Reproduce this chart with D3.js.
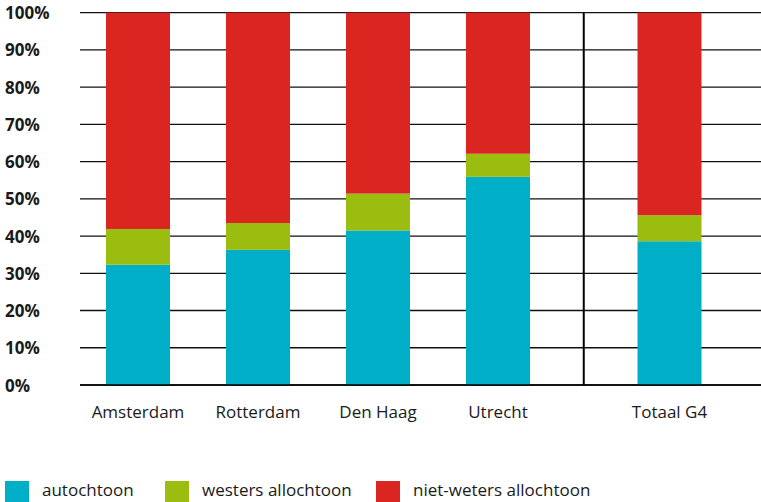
<!DOCTYPE html>
<html>
<head>
<meta charset="utf-8">
<script src="https://cdn.jsdelivr.net/npm/d3@7"></script>
<style>
  html, body { margin: 0; padding: 0; background: #fff; }
  svg { display: block; font-family: "Open Sans", "DejaVu Sans", sans-serif; }
</style>
</head>
<body>
<svg id="chart" width="761" height="502"></svg>
<script>
// ---- data ----
const categories = ["Amsterdam", "Rotterdam", "Den Haag", "Utrecht", "Totaal G4"];
const autochtoon = [32.3, 36.3, 41.5, 55.9, 38.6];
const westersAllochtoon = [9.6, 7.2, 9.9, 6.2, 7.0];
const nietWestersAllochtoon = [58.1, 56.5, 48.6, 37.9, 54.4];
const seriesNames = ["autochtoon", "westers allochtoon", "niet-weters allochtoon"];
const seriesColors = ["#00AEC7", "#9ABD10", "#DA2520"];
const yTicks = [0, 10, 20, 30, 40, 50, 60, 70, 80, 90, 100];
const yTickLabels = ["0%", "10%", "20%", "30%", "40%", "50%", "60%", "70%", "80%", "90%", "100%"];

// ---- layout ----
const W = 761, H = 502;
const gridLeft = 80;
const totalGap = 51.5; // extra gap before the total bar

const svg = d3.select("#chart");

const table = categories.map((c, i) => ({
  cat: c,
  "autochtoon": autochtoon[i],
  "westers allochtoon": westersAllochtoon[i],
  "niet-weters allochtoon": nietWestersAllochtoon[i]
}));

const y = d3.scaleLinear().domain([0, 100]).range([385, 12.6]);
const x = d3.scaleBand().domain(categories).range([78, 678])
  .paddingInner(56 / 120).paddingOuter(28 / 120);
const xPos = c => x(c) + (c === "Totaal G4" ? totalGap : 0);

// gridlines
svg.append("g").selectAll("line").data(yTicks).join("line")
  .attr("x1", gridLeft).attr("x2", W)
  .attr("y1", d => y(d)).attr("y2", d => y(d))
  .attr("stroke", "#111").attr("stroke-width", 1.3);

// y labels
svg.append("g").selectAll("text").data(yTicks).join("text")
  .attr("x", 5).attr("y", d => y(d) + 6.5)
  .attr("font-size", 17).attr("font-weight", "bold").attr("fill", "#1a1a1a")
  .text((d, i) => yTickLabels[i]);

// stacked bars
const stack = d3.stack().keys(seriesNames);
const stacked = stack(table);
const color = d3.scaleOrdinal().domain(seriesNames).range(seriesColors);

svg.append("g").selectAll("g").data(stacked).join("g")
  .attr("fill", d => color(d.key))
  .selectAll("rect").data(d => d).join("rect")
  .attr("x", d => xPos(d.data.cat))
  .attr("width", x.bandwidth())
  .attr("y", d => y(d[1]))
  .attr("height", d => y(d[0]) - y(d[1]));

// baseline
svg.append("line").attr("x1", gridLeft).attr("x2", W)
  .attr("y1", y(0)).attr("y2", y(0)).attr("stroke", "#000").attr("stroke-width", 1.5);

// separator between cities and total
const sepX = (xPos("Utrecht") + x.bandwidth() / 2 + xPos("Totaal G4") + x.bandwidth() / 2) / 2;
svg.append("line").attr("x1", sepX).attr("x2", sepX)
  .attr("y1", y(100)).attr("y2", y(0))
  .attr("stroke", "#000").attr("stroke-width", 2);

// category labels
svg.append("g").selectAll("text").data(categories).join("text")
  .attr("x", c => xPos(c) + x.bandwidth() / 2)
  .attr("y", 418)
  .attr("text-anchor", "middle")
  .attr("font-size", 17).attr("fill", "#1a1a1a")
  .text(c => c);

// legend
const legendX = [5, 165, 376];
const lg = svg.append("g").selectAll("g").data(seriesNames).join("g")
  .attr("transform", (d, i) => `translate(${legendX[i]},0)`);
lg.append("rect").attr("x", 0).attr("y", 481).attr("width", 24).attr("height", 24)
  .attr("fill", d => color(d));
lg.append("text").attr("x", 37).attr("y", 496)
  .attr("font-size", 17).attr("fill", "#1a1a1a")
  .text(d => d);
</script>
</body>
</html>
